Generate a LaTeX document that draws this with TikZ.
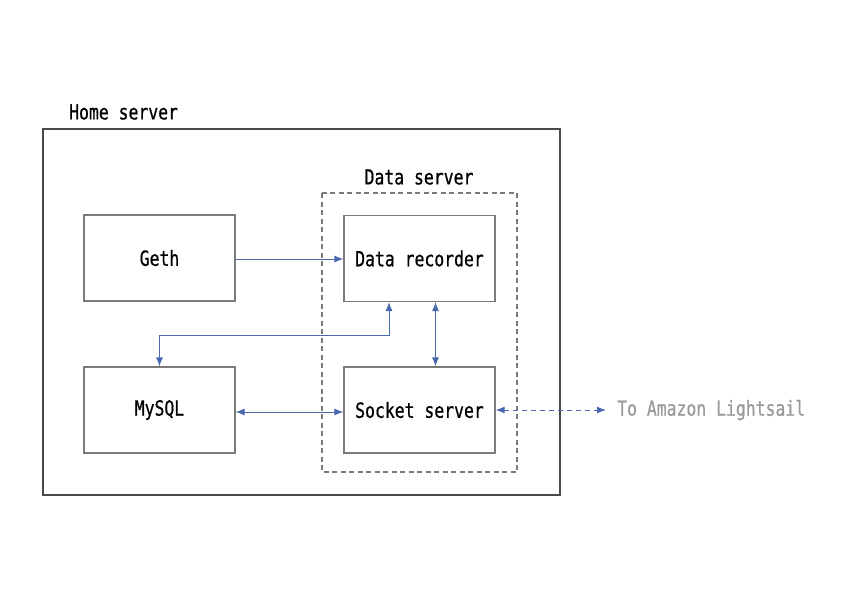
\documentclass[tikz,border=0pt]{standalone}
\usepackage{fontspec}
\newfontfamily\labfont[FakeStretch=0.79,FakeBold=0.6]{DejaVu Sans Mono}
\usetikzlibrary{arrows.meta}
\definecolor{arrblue}{HTML}{4A68AE}
\definecolor{boxgray}{HTML}{7A7A7A}
\definecolor{outgray}{HTML}{4A4A4A}
\definecolor{txtgray}{HTML}{9A9A9A}
\tikzset{
  lab/.style={font=\labfont\fontsize{20.8}{24}\selectfont, text=black, inner sep=0pt},
  comp/.style={draw=boxgray, line width=1.2pt, minimum width=151pt, minimum height=86pt, inner sep=0pt, lab},
  arr/.style={draw=arrblue, line width=1pt, {Latex[length=9pt,width=7pt]}-{Latex[length=9pt,width=7pt]}},
  arrone/.style={draw=arrblue, line width=1pt, -{Latex[length=9pt,width=7pt]}},
}
\begin{document}
\begin{tikzpicture}[x=1pt,y=-1pt]
\useasboundingbox (0,0) rectangle (841,594);
% home server
\draw[draw=outgray, line width=1.1pt] (43,129) rectangle (560,495);
\node[lab, anchor=west] (homelab) at (69,112) {Home server};
% data server
\draw[draw=boxgray, line width=1.2pt, dash pattern=on 5pt off 3.5pt] (322,193) rectangle (517,472);
\node[lab] (datalab) at (419,177) {Data server};
% components
\node[comp] (geth) at (159.5,258) {Geth};
\node[comp] (dr) at (419.5,258.5) {Data recorder};
\node[comp] (my) at (159.5,410) {MySQL};
\node[comp] (ss) at (419.5,410) {Socket server};
% connectors
\draw[arrone] (geth.east |- 0,259) -- (dr.west |- 0,259);
\draw[arr] ([xshift=16pt]dr.south) -- ([xshift=16pt]ss.north);
\coordinate (bend) at (159.5,335);
\draw[arr] ([xshift=-30.5pt]dr.south) |- (bend) -- (my.north);
\draw[arr] (my.east |- 0,412) -- (ss.west |- 0,412);
\coordinate (amz) at (606,410);
\draw[arr, dash pattern=on 5pt off 4pt] (ss.east) -- (amz);
\node[lab, anchor=west, text=txtgray] (amzlab) at (617,410) {To Amazon Lightsail};
\end{tikzpicture}
\end{document}
